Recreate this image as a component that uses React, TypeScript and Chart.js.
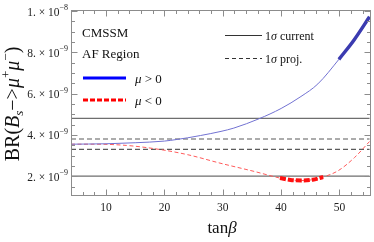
import React, { useEffect, useRef } from "react";
import { Chart, registerables } from "chart.js";

Chart.register(...registerables);

// ---- data ----
const tanBetaPos = [4, 10, 15, 20, 22.2, 24, 26.2, 29.7, 31.9, 36.2, 40, 43.4, 46.3, 49.9, 52.5, 55.15];
const brPos = [3.55e-9, 3.57e-9, 3.62e-9, 3.7e-9, 3.78e-9, 3.86e-9, 3.97e-9, 4.17e-9, 4.33e-9, 4.78e-9, 5.28e-9, 5.86e-9, 6.47e-9, 7.66e-9, 8.6e-9, 9.72e-9];
const posThickRange = [49.9, 55.15];

const tanBetaNeg = [4, 8, 13.5, 19.3, 24, 29.7, 35.4, 39.8, 41.6, 43.5, 45.4, 47.2, 49.8, 52.6, 55.15];
const brNeg = [3.55e-9, 3.55e-9, 3.49e-9, 3.29e-9, 3.04e-9, 2.62e-9, 2.23e-9, 1.91e-9, 1.82e-9, 1.79e-9, 1.83e-9, 1.96e-9, 2.27e-9, 2.91e-9, 3.68e-9];
const negThickRange = [39.8, 47.2];

const sigmaCurrent = [2.0e-9, 4.8e-9];
const sigmaProj = [3.3e-9, 3.8e-9];
const hLineRange = [4, 55.15];

const xRange = [4, 55.4];
const yRange = [1.04e-9, 1.005e-8];
const xMajorTicks = [10, 20, 30, 40, 50];
const xMinorTicks = [4, 6, 8, 12, 14, 16, 18, 22, 24, 26, 28, 32, 34, 36, 38, 42, 44, 46, 48, 52, 54];
const yMajorTicks = [2e-9, 4e-9, 6e-9, 8e-9, 1e-8];
const yMinorTicks = [1.5e-9, 2.5e-9, 3e-9, 3.5e-9, 4.5e-9, 5e-9, 5.5e-9, 6.5e-9, 7e-9, 7.5e-9, 8.5e-9, 9e-9, 9.5e-9];

const FONT = '"Liberation Serif", "DejaVu Serif", "Times New Roman", serif';

type Seg = { t: string; size: number; italic?: boolean; dy?: number; gap?: number };

function segFont(s: Seg) {
  return `${s.italic ? "italic " : ""}${s.size}px ${FONT}`;
}

function richWidth(ctx: CanvasRenderingContext2D, segs: Seg[]) {
  let w = 0;
  for (const s of segs) {
    ctx.font = segFont(s);
    w += ctx.measureText(s.t).width + (s.gap || 0);
  }
  return w;
}

function drawRich(ctx: CanvasRenderingContext2D, segs: Seg[], x: number, y: number, align: "left" | "center" | "right") {
  const w = richWidth(ctx, segs);
  let cx = align === "left" ? x : align === "center" ? x - w / 2 : x - w;
  ctx.textAlign = "left";
  ctx.textBaseline = "alphabetic";
  for (const s of segs) {
    ctx.font = segFont(s);
    ctx.fillText(s.t, cx, y + (s.dy || 0));
    cx += ctx.measureText(s.t).width + (s.gap || 0);
  }
}

function pts(xs: number[], ys: number[], range?: number[]) {
  const out: { x: number; y: number }[] = [];
  xs.forEach((x, i) => {
    if (!range || (x >= range[0] - 1e-9 && x <= range[1] + 1e-9)) out.push({ x, y: ys[i] });
  });
  return out;
}

const decor = {
  id: "decor",
  afterDraw(chart: any) {
    const { ctx, chartArea: a, scales } = chart;
    const xs = scales.x;
    const ys = scales.y;
    ctx.save();
    // frame
    ctx.strokeStyle = "#8c8c8c";
    ctx.lineWidth = 1;
    const L = Math.round(a.left) + 0.5;
    const R = Math.round(a.right) - 0.5;
    const T = Math.round(a.top) + 0.5;
    const B = Math.round(a.bottom) - 0.5;
    ctx.strokeRect(L, T, R - L, B - T);
    // ticks
    ctx.beginPath();
    const xt = (vals: number[], len: number) => {
      for (const v of vals) {
        const p = Math.round(xs.getPixelForValue(v)) + 0.5;
        ctx.moveTo(p, B);
        ctx.lineTo(p, B - len);
        ctx.moveTo(p, T);
        ctx.lineTo(p, T + len);
      }
    };
    const yt = (vals: number[], len: number) => {
      for (const v of vals) {
        const p = Math.round(ys.getPixelForValue(v)) + 0.5;
        ctx.moveTo(L, p);
        ctx.lineTo(L + len, p);
        ctx.moveTo(R, p);
        ctx.lineTo(R - len, p);
      }
    };
    xt(xMajorTicks, 6);
    xt(xMinorTicks, 3.5);
    yt(yMajorTicks, 6);
    yt(yMinorTicks, 3.5);
    ctx.stroke();

    // x tick labels
    ctx.fillStyle = "#222";
    for (const v of xMajorTicks) {
      drawRich(ctx, [{ t: String(v), size: 11.5 }], xs.getPixelForValue(v), a.bottom + 14.5, "center");
    }

    // y tick labels
    for (const v of yMajorTicks) {
      const e = Math.floor(Math.log10(v) + 1e-9);
      const m = Math.round(v / Math.pow(10, e));
      const py = ys.getPixelForValue(v);
      drawRich(
        ctx,
        [
          { t: `${m}. \u00d7 10`, size: 11.5 },
          { t: `\u2212${-e}`, size: 8, dy: -5.5 },
        ],
        a.left - 3,
        py + 4.5,
        "right"
      );
    }

    // axis titles
    ctx.fillStyle = "#111";
    ctx.save();
    ctx.translate(19, 104);
    ctx.rotate(-Math.PI / 2);
    drawRich(
      ctx,
      [
        { t: "BR(", size: 20 },
        { t: "B", size: 20, italic: true },
        { t: "s", size: 13, italic: true, dy: 4 },
        { t: "\u2212>", size: 20 },
        { t: "\u03bc", size: 20, italic: true },
        { t: "+", size: 13, dy: -9 },
        { t: "\u03bc", size: 20, italic: true },
        { t: "\u2212", size: 13, dy: -9 },
        { t: ")", size: 20 },
      ],
      0,
      0,
      "center"
    );
    ctx.restore();
    drawRich(
      ctx,
      [
        { t: "tan", size: 17 },
        { t: "\u03b2", size: 17, italic: true },
      ],
      222,
      233,
      "center"
    );

    // left legend
    ctx.fillStyle = "#111";
    drawRich(ctx, [{ t: "CMSSM", size: 13 }], 82, 36.5, "left");
    drawRich(ctx, [{ t: "AF Region", size: 13 }], 82, 57.5, "left");
    ctx.lineWidth = 3;
    ctx.strokeStyle = "#0000ff";
    ctx.setLineDash([]);
    ctx.beginPath();
    ctx.moveTo(83, 78);
    ctx.lineTo(126, 78);
    ctx.stroke();
    ctx.strokeStyle = "#ff0000";
    ctx.setLineDash([5, 2]);
    ctx.beginPath();
    ctx.moveTo(83, 100);
    ctx.lineTo(126, 100);
    ctx.stroke();
    ctx.setLineDash([]);
    drawRich(
      ctx,
      [
        { t: "\u03bc", size: 13, italic: true },
        { t: " > 0", size: 13 },
      ],
      135,
      82.5,
      "left"
    );
    drawRich(
      ctx,
      [
        { t: "\u03bc", size: 13, italic: true },
        { t: " < 0", size: 13 },
      ],
      135,
      104.5,
      "left"
    );

    // right legend
    ctx.lineWidth = 1;
    ctx.strokeStyle = "#333";
    ctx.beginPath();
    ctx.moveTo(225, 35.5);
    ctx.lineTo(262, 35.5);
    ctx.stroke();
    ctx.setLineDash([4, 3]);
    ctx.beginPath();
    ctx.moveTo(225, 58.5);
    ctx.lineTo(262, 58.5);
    ctx.stroke();
    ctx.setLineDash([]);
    drawRich(
      ctx,
      [
        { t: "1", size: 12 },
        { t: "\u03c3", size: 12, italic: true },
        { t: " current", size: 12 },
      ],
      265,
      39.5,
      "left"
    );
    drawRich(
      ctx,
      [
        { t: "1", size: 12 },
        { t: "\u03c3", size: 12, italic: true },
        { t: " proj.", size: 12 },
      ],
      265,
      62.5,
      "left"
    );
    ctx.restore();
  },
};

export default function App() {
  const ref = useRef<HTMLCanvasElement>(null);
  useEffect(() => {
    document.body.style.margin = "0";
    const hline = (v: number, dashed: boolean) => ({
      data: [
        { x: hLineRange[0], y: v },
        { x: hLineRange[1], y: v },
      ],
      borderColor: dashed ? "#5a5a5a" : "#6e6e6e",
      borderWidth: dashed ? 1.1 : 1.3,
      borderDash: dashed ? [5, 3] : [],
      pointRadius: 0,
      tension: 0,
    });
    const chart = new Chart(ref.current!, {
      type: "line",
      data: {
        datasets: [
          {
            data: pts(tanBetaPos, brPos, posThickRange),
            borderColor: "#3b3bb0",
            borderWidth: 3.5,
            pointRadius: 0,
            cubicInterpolationMode: "monotone",
          },
          {
            data: pts(tanBetaNeg, brNeg, negThickRange),
            borderColor: "#ff1010",
            borderWidth: 4,
            borderDash: [6, 2],
            pointRadius: 0,
            cubicInterpolationMode: "monotone",
          },
          {
            data: pts(tanBetaPos, brPos),
            borderColor: "#7272d2",
            borderWidth: 1,
            pointRadius: 0,
            cubicInterpolationMode: "monotone",
          },
          {
            data: pts(tanBetaNeg, brNeg),
            borderColor: "#ff5a5a",
            borderWidth: 1,
            borderDash: [4, 2.5],
            pointRadius: 0,
            cubicInterpolationMode: "monotone",
          },
          hline(sigmaCurrent[0], false),
          hline(sigmaCurrent[1], false),
          hline(sigmaProj[0], true),
          hline(sigmaProj[1], true),
        ] as any,
      },
      options: {
        responsive: false,
        devicePixelRatio: 1,
        animation: false,
        layout: { padding: { top: 10, right: 3, left: 0, bottom: 0 } },
        plugins: { legend: { display: false }, tooltip: { enabled: false } },
        scales: {
          x: {
            type: "linear",
            min: xRange[0],
            max: xRange[1],
            grid: { display: false },
            border: { display: false },
            ticks: { display: false },
            afterFit: (s: any) => {
              s.height = 46;
            },
          },
          y: {
            type: "linear",
            min: yRange[0],
            max: yRange[1],
            grid: { display: false },
            border: { display: false },
            ticks: { display: false },
            afterFit: (s: any) => {
              s.width = 71;
            },
          },
        },
      } as any,
      plugins: [decor],
    });
    return () => chart.destroy();
  }, []);
  return (
    <div style={{ position: "absolute", left: 0, top: 0, width: 374, height: 242, background: "#fff" }}>
      <canvas ref={ref} width={374} height={242} style={{ display: "block", width: 374, height: 242 }} />
    </div>
  );
}
